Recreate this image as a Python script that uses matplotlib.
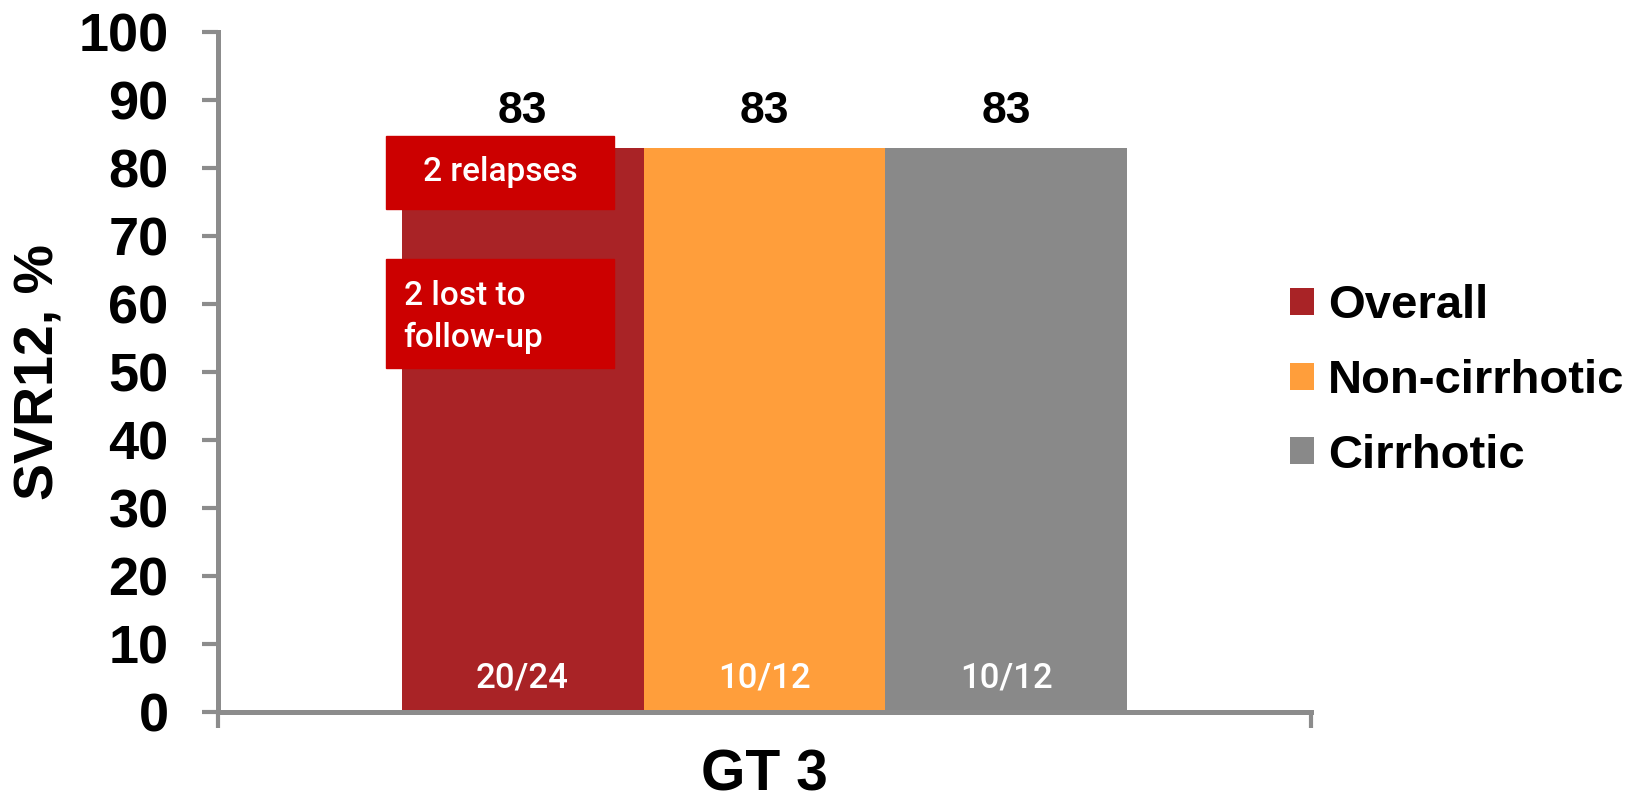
import matplotlib
matplotlib.use("Agg")
import matplotlib.pyplot as plt
from matplotlib.patches import Patch, Rectangle
from matplotlib import font_manager as fm

# ---- data ----
group_label = "GT 3"
series = ["Overall", "Non-cirrhotic", "Cirrhotic"]
values = [83, 83, 83]
counts = ["20/24", "10/12", "10/12"]
colors = ["#A92326", "#FF9E3B", "#898989"]
yticks = [0, 10, 20, 30, 40, 50, 60, 70, 80, 90, 100]
ylabel = "SVR12, %"
notes = ["2 relapses", "2 lost to\nfollow-up"]

# ---- fonts ----
avail = {f.name for f in fm.fontManager.ttflist}
BOLD = "Liberation Sans" if "Liberation Sans" in avail else "DejaVu Sans"
INNER = "Roboto" if "Roboto" in avail else "DejaVu Sans"

W, H, DPI = 16.42, 7.99, 100
fig = plt.figure(figsize=(W, H), dpi=DPI)
ax = fig.add_axes([218 / 1642, 1 - 712 / 799, (1311 - 218) / 1642, (712 - 32) / 799])

axis_gray = "#8C8C8C"
bw = 0.2214
offsets = [-bw, 0, bw]
bars = []
for off, v, c, s in zip(offsets, values, colors, series):
    b = ax.bar(off, v, width=bw, color=c, label=s, zorder=2)
    bars.append(b[0])

ax.set_xlim(-0.5, 0.5)
ax.set_ylim(0, 100)

# value labels above bars and counts inside
for b, v, n in zip(bars, values, counts):
    xc = b.get_x() + b.get_width() / 2
    ax.annotate(f"{v}", xy=(xc, v), xytext=(0, 17.5), textcoords="offset points",
                ha="center", va="baseline", fontsize=32, fontweight="bold",
                family=BOLD, color="black")
    ax.annotate(n, xy=(xc, 0), xytext=(0, 17.5), textcoords="offset points",
                ha="center", va="baseline", fontsize=25, family=INNER,
                fontweight="medium", color="white", zorder=4)

# annotation boxes on the Overall bar
rb = bars[0]
bx0 = rb.get_x() - 0.014
bwid = 0.208
box_red = "#CC0000"
ax.add_patch(Rectangle((bx0, 74.0), bwid, 10.7, color=box_red, zorder=3, clip_on=False))
ax.add_patch(Rectangle((bx0, 50.6), bwid, 16.0, color=box_red, zorder=3, clip_on=False))
ax.text(bx0 + bwid / 2, 79.35, notes[0], ha="center", va="center", fontsize=24,
        family=INNER, fontweight="medium", color="white", zorder=4)
ax.text(bx0 + 0.016, 58.1, notes[1], ha="left", va="center", fontsize=24,
        family=INNER, fontweight="medium", color="white", zorder=4, linespacing=1.4)

# axes styling
for sp in ["top", "right"]:
    ax.spines[sp].set_visible(False)
for sp in ["left", "bottom"]:
    ax.spines[sp].set_color(axis_gray)
    ax.spines[sp].set_linewidth(3.6)
ax.spines["left"].set_zorder(1)

ax.set_yticks(yticks)
ax.set_yticklabels([str(t) for t in yticks], fontsize=39, fontweight="bold", family=BOLD)
ax.tick_params(axis="y", direction="out", length=11.5, width=3, color=axis_gray, pad=24)

ax.set_xticks([-0.5, 0.5])
ax.set_xticklabels(["", ""])
ax.tick_params(axis="x", which="major", direction="out", length=11.5, width=3, color=axis_gray)
ax.set_xticks([0], minor=True)
ax.set_xticklabels([group_label], minor=True, fontsize=41, fontweight="bold", family=BOLD)
ax.tick_params(axis="x", which="minor", length=0, pad=26)

ax.set_ylabel(ylabel, fontsize=40, fontweight="bold", family=BOLD, va="center")
ax.yaxis.set_label_coords(-0.163, 0.5)

# legend
handles = [Patch(facecolor=c, edgecolor="none") for c in colors]
leg = fig.legend(handles, series, loc="center left",
                 bbox_to_anchor=(1290 / 1642, 1 - 381 / 799),
                 frameon=False, borderpad=0, borderaxespad=0,
                 handlelength=0.5, handleheight=0.5, handletextpad=0.3,
                 labelspacing=0.65,
                 prop={"family": BOLD, "weight": "bold", "size": 34})

fig.savefig("out.png", dpi=DPI)
